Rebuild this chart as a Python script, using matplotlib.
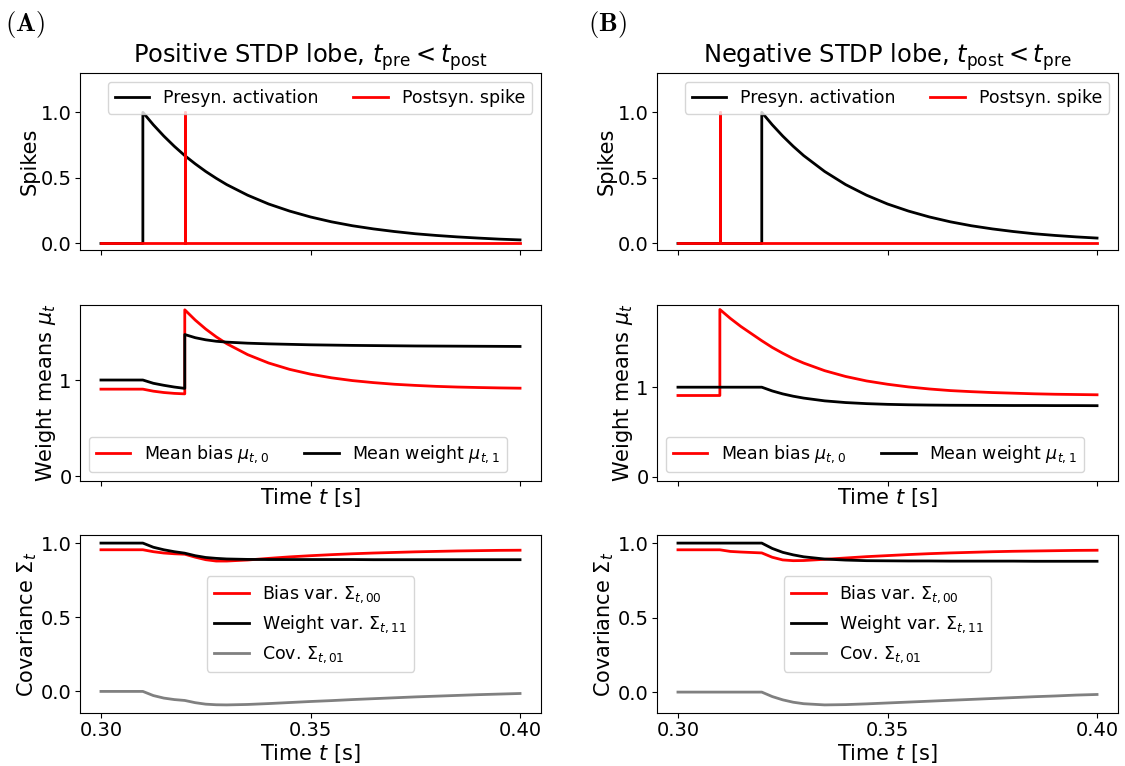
import matplotlib
matplotlib.use("Agg")
import matplotlib.pyplot as plt

# shared time grid (s); spike times appear three times to allow jumps
t = [0.300, 0.305, 0.310, 0.310, 0.310, 0.3125, 0.315, 0.3175,
     0.320, 0.320, 0.320, 0.3225, 0.325, 0.3275, 0.330, 0.335, 0.340,
     0.345, 0.350, 0.355, 0.360, 0.365, 0.370, 0.375, 0.380, 0.385,
     0.390, 0.395, 0.400]

# ---------- Panel A: positive STDP lobe ----------
pre_A = [0, 0, 0, 1, 1, 0.905, 0.819, 0.741,
         0.670, 0.670, 0.670, 0.607, 0.549, 0.497, 0.449,
         0.368, 0.301, 0.247, 0.202, 0.165, 0.135, 0.111, 0.091, 0.074,
         0.061, 0.050, 0.041, 0.033, 0.027]
post_A = [0, 0, 0, 0, 0, 0, 0, 0,
          0, 1, 0, 0, 0, 0, 0,
          0, 0, 0, 0, 0, 0, 0, 0, 0, 0, 0, 0, 0, 0]
mu0_A = [0.905, 0.905, 0.905, 0.905, 0.905, 0.884, 0.870, 0.861,
         0.856, 1.730, 1.730, 1.623, 1.530, 1.449, 1.378,
         1.264, 1.177, 1.111, 1.061, 1.023, 0.994, 0.973, 0.956, 0.944,
         0.934, 0.927, 0.922, 0.918, 0.915]
mu1_A = [1.0, 1.0, 1.0, 1.0, 1.0, 0.966, 0.945, 0.927,
         0.913, 1.473, 1.473, 1.440, 1.418, 1.403, 1.394,
         1.383, 1.376, 1.371, 1.366, 1.363, 1.360, 1.358, 1.356, 1.354,
         1.353, 1.352, 1.351, 1.350, 1.349]
S00_A = [0.955, 0.955, 0.955, 0.955, 0.955, 0.942, 0.933, 0.928,
         0.925, 0.925, 0.925, 0.905, 0.888, 0.879, 0.879,
         0.886, 0.897, 0.907, 0.915, 0.922, 0.928, 0.933, 0.937, 0.941,
         0.944, 0.947, 0.949, 0.951, 0.952]
S11_A = [1.0, 1.0, 1.0, 1.0, 1.0, 0.972, 0.955, 0.942,
         0.932, 0.932, 0.932, 0.915, 0.903, 0.897, 0.893,
         0.890, 0.889, 0.889, 0.889, 0.889, 0.889, 0.888, 0.888, 0.888,
         0.888, 0.888, 0.888, 0.888, 0.888]
S01_A = [0, 0, 0, 0, 0, -0.028, -0.045, -0.055,
         -0.061, -0.061, -0.061, -0.076, -0.086, -0.090, -0.091,
         -0.088, -0.082, -0.075, -0.068, -0.062, -0.055, -0.049, -0.043,
         -0.037, -0.032, -0.027, -0.022, -0.018, -0.014]

# ---------- Panel B: negative STDP lobe ----------
pre_B = [0, 0, 0, 0, 0, 0, 0, 0,
         0, 1, 1, 0.905, 0.819, 0.741, 0.670,
         0.549, 0.449, 0.368, 0.301, 0.247, 0.202, 0.165, 0.135, 0.111,
         0.091, 0.074, 0.061, 0.050, 0.041]
post_B = [0, 0, 0, 1, 0, 0, 0, 0,
          0, 0, 0, 0, 0, 0, 0,
          0, 0, 0, 0, 0, 0, 0, 0, 0, 0, 0, 0, 0, 0]
mu0_B = [0.907, 0.907, 0.907, 1.870, 1.870, 1.770, 1.680, 1.600,
         1.520, 1.520, 1.520, 1.445, 1.380, 1.320, 1.270,
         1.185, 1.120, 1.070, 1.033, 1.003, 0.980, 0.962, 0.950, 0.940,
         0.933, 0.926, 0.921, 0.918, 0.915]
mu1_B = [1.0, 1.0, 1.0, 1.0, 1.0, 1.0, 1.0, 1.0,
         1.0, 1.0, 1.0, 0.958, 0.925, 0.899, 0.878,
         0.847, 0.828, 0.816, 0.808, 0.803, 0.800, 0.798, 0.797, 0.796,
         0.795, 0.795, 0.794, 0.794, 0.793]
S00_B = [0.955, 0.955, 0.955, 0.955, 0.955, 0.944, 0.940, 0.937,
         0.934, 0.934, 0.934, 0.905, 0.887, 0.882, 0.883,
         0.891, 0.900, 0.909, 0.916, 0.923, 0.929, 0.934, 0.938, 0.942,
         0.945, 0.947, 0.949, 0.951, 0.952]
S11_B = [1.0, 1.0, 1.0, 1.0, 1.0, 1.0, 1.0, 1.0,
         1.0, 1.0, 1.0, 0.964, 0.938, 0.921, 0.908,
         0.893, 0.886, 0.882, 0.881, 0.880, 0.880, 0.879, 0.879, 0.879,
         0.879, 0.878, 0.878, 0.878, 0.878]
S01_B = [0, 0, 0, 0, 0, 0, 0, 0,
         0, 0, 0, -0.030, -0.052, -0.068, -0.078,
         -0.086, -0.084, -0.079, -0.073, -0.067, -0.061, -0.055, -0.049,
         -0.043, -0.037, -0.031, -0.026, -0.020, -0.016]

titles = [r"Positive STDP lobe, $t_\mathrm{pre} < t_\mathrm{post}$",
          r"Negative STDP lobe, $t_\mathrm{post} < t_\mathrm{pre}$"]
panel_labels = ["(A)", "(B)"]
xticks = [0.30, 0.35, 0.40]

columns = [
    dict(pre=pre_A, post=post_A, mu0=mu0_A, mu1=mu1_A, S00=S00_A, S11=S11_A, S01=S01_A),
    dict(pre=pre_B, post=post_B, mu0=mu0_B, mu1=mu1_B, S00=S00_B, S11=S11_B, S01=S01_B),
]

TICK = 14
LAB = 15
LEG = 12.5
TIT = 17.4
LW = 2

fig = plt.figure(figsize=(11.25, 7.66), dpi=100)

W, H = 1125.0, 766.0
col_x = [80, 657]
ax_w = 461
rows = [(73, 250), (305, 481), (535, 713)]

for c, d in enumerate(columns):
    axs = []
    for (top, bot) in rows:
        ax = fig.add_axes([col_x[c] / W, 1 - bot / H, ax_w / W, (bot - top) / H])
        axs.append(ax)
    a1, a2, a3 = axs

    # Row 1: spikes
    a1.plot(t, d["pre"], color="black", lw=LW, label="Presyn. activation")
    a1.plot(t, d["post"], color="red", lw=LW, label="Postsyn. spike")
    a1.set_ylim(-0.05, 1.3)
    a1.set_yticks([0.0, 0.5, 1.0])
    a1.set_ylabel("Spikes", fontsize=LAB, labelpad=1)
    a1.legend(loc="upper right", ncol=2, fontsize=LEG)
    a1.set_title(titles[c], fontsize=TIT, pad=4.5)

    # Row 2: means
    a2.plot(t, d["mu0"], color="red", lw=LW, label=r"Mean bias $\mu_{t,0}$")
    a2.plot(t, d["mu1"], color="black", lw=LW, label=r"Mean weight $\mu_{t,1}$")
    a2.set_ylim(-0.05, max(max(d["mu0"]), max(d["mu1"])) + 0.05)
    a2.set_yticks([0, 1])
    a2.set_ylabel(r"Weight means $\mu_t$", fontsize=LAB, labelpad=1)
    a2.set_xlabel(r"Time $t$ [s]", fontsize=LAB, labelpad=0)
    a2.legend(loc="lower left", ncol=2, fontsize=LEG)

    # Row 3: covariance
    a3.plot(t, d["S00"], color="red", lw=LW, label=r"Bias var. $\Sigma_{t,00}$")
    a3.plot(t, d["S11"], color="black", lw=LW, label=r"Weight var. $\Sigma_{t,11}$")
    a3.plot(t, d["S01"], color="gray", lw=LW, label=r"Cov. $\Sigma_{t,01}$")
    a3.set_yticks([0.0, 0.5, 1.0])
    a3.set_ylabel(r"Covariance $\Sigma_t$", fontsize=LAB, labelpad=1)
    a3.set_xlabel(r"Time $t$ [s]", fontsize=LAB, labelpad=1)
    a3.legend(loc="center", fontsize=LEG)

    xl = a3.get_xlim()
    for ax in axs:
        ax.set_xticks(xticks)
        ax.set_xlim(xl)
        ax.tick_params(labelsize=TICK, pad=2.5)
    a1.tick_params(labelbottom=False)
    a2.tick_params(labelbottom=False)
    a3.set_xticklabels(["%.2f" % v for v in xticks])

    fig.text(5 / W if c == 0 else 588 / W, 0.988,
             r"$\mathbf{" + panel_labels[c] + "}$", fontsize=19,
             math_fontfamily="cm", va="top", ha="left")

fig.savefig("out.png", dpi=100)
